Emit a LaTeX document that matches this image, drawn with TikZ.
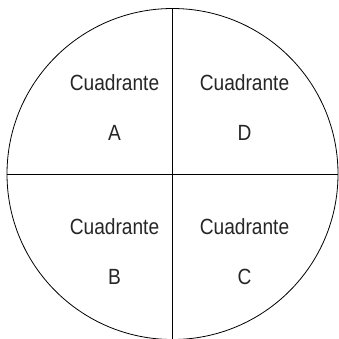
\documentclass[tikz,border=0pt]{standalone}
\usepackage{fontspec}
\setmainfont{Liberation Sans}
\newfontfamily\quadfont[FakeStretch=0.87]{Liberation Sans}
\usetikzlibrary{positioning}

\begin{document}
\begin{tikzpicture}[
    x=1pt, y=-1pt,
    disc/.style={draw, circle, line width=0.8pt, minimum size=331pt, inner sep=0pt},
    divider/.style={line width=0.9pt},
    quad/.style={align=center, inner sep=0pt, font=\quadfont\fontsize{22}{50}\selectfont, text=black!85}
  ]
    \useasboundingbox (0,0) rectangle (339,338);
    \node[disc] (circ) at (172.5,174) {};
    \draw[divider] (circ.north) -- (circ.south);
    \draw[divider] (circ.west) -- (circ.east);
    \node[quad] (qa) at (114.5,108) {Cuadrante\\A};
    \node[quad] (qd) at (244.5,108) {Cuadrante\\D};
    \node[quad] (qb) at (114.5,252) {Cuadrante\\B};
    \node[quad] (qc) at (244.5,252) {Cuadrante\\C};
  \end{tikzpicture}
\end{document}
